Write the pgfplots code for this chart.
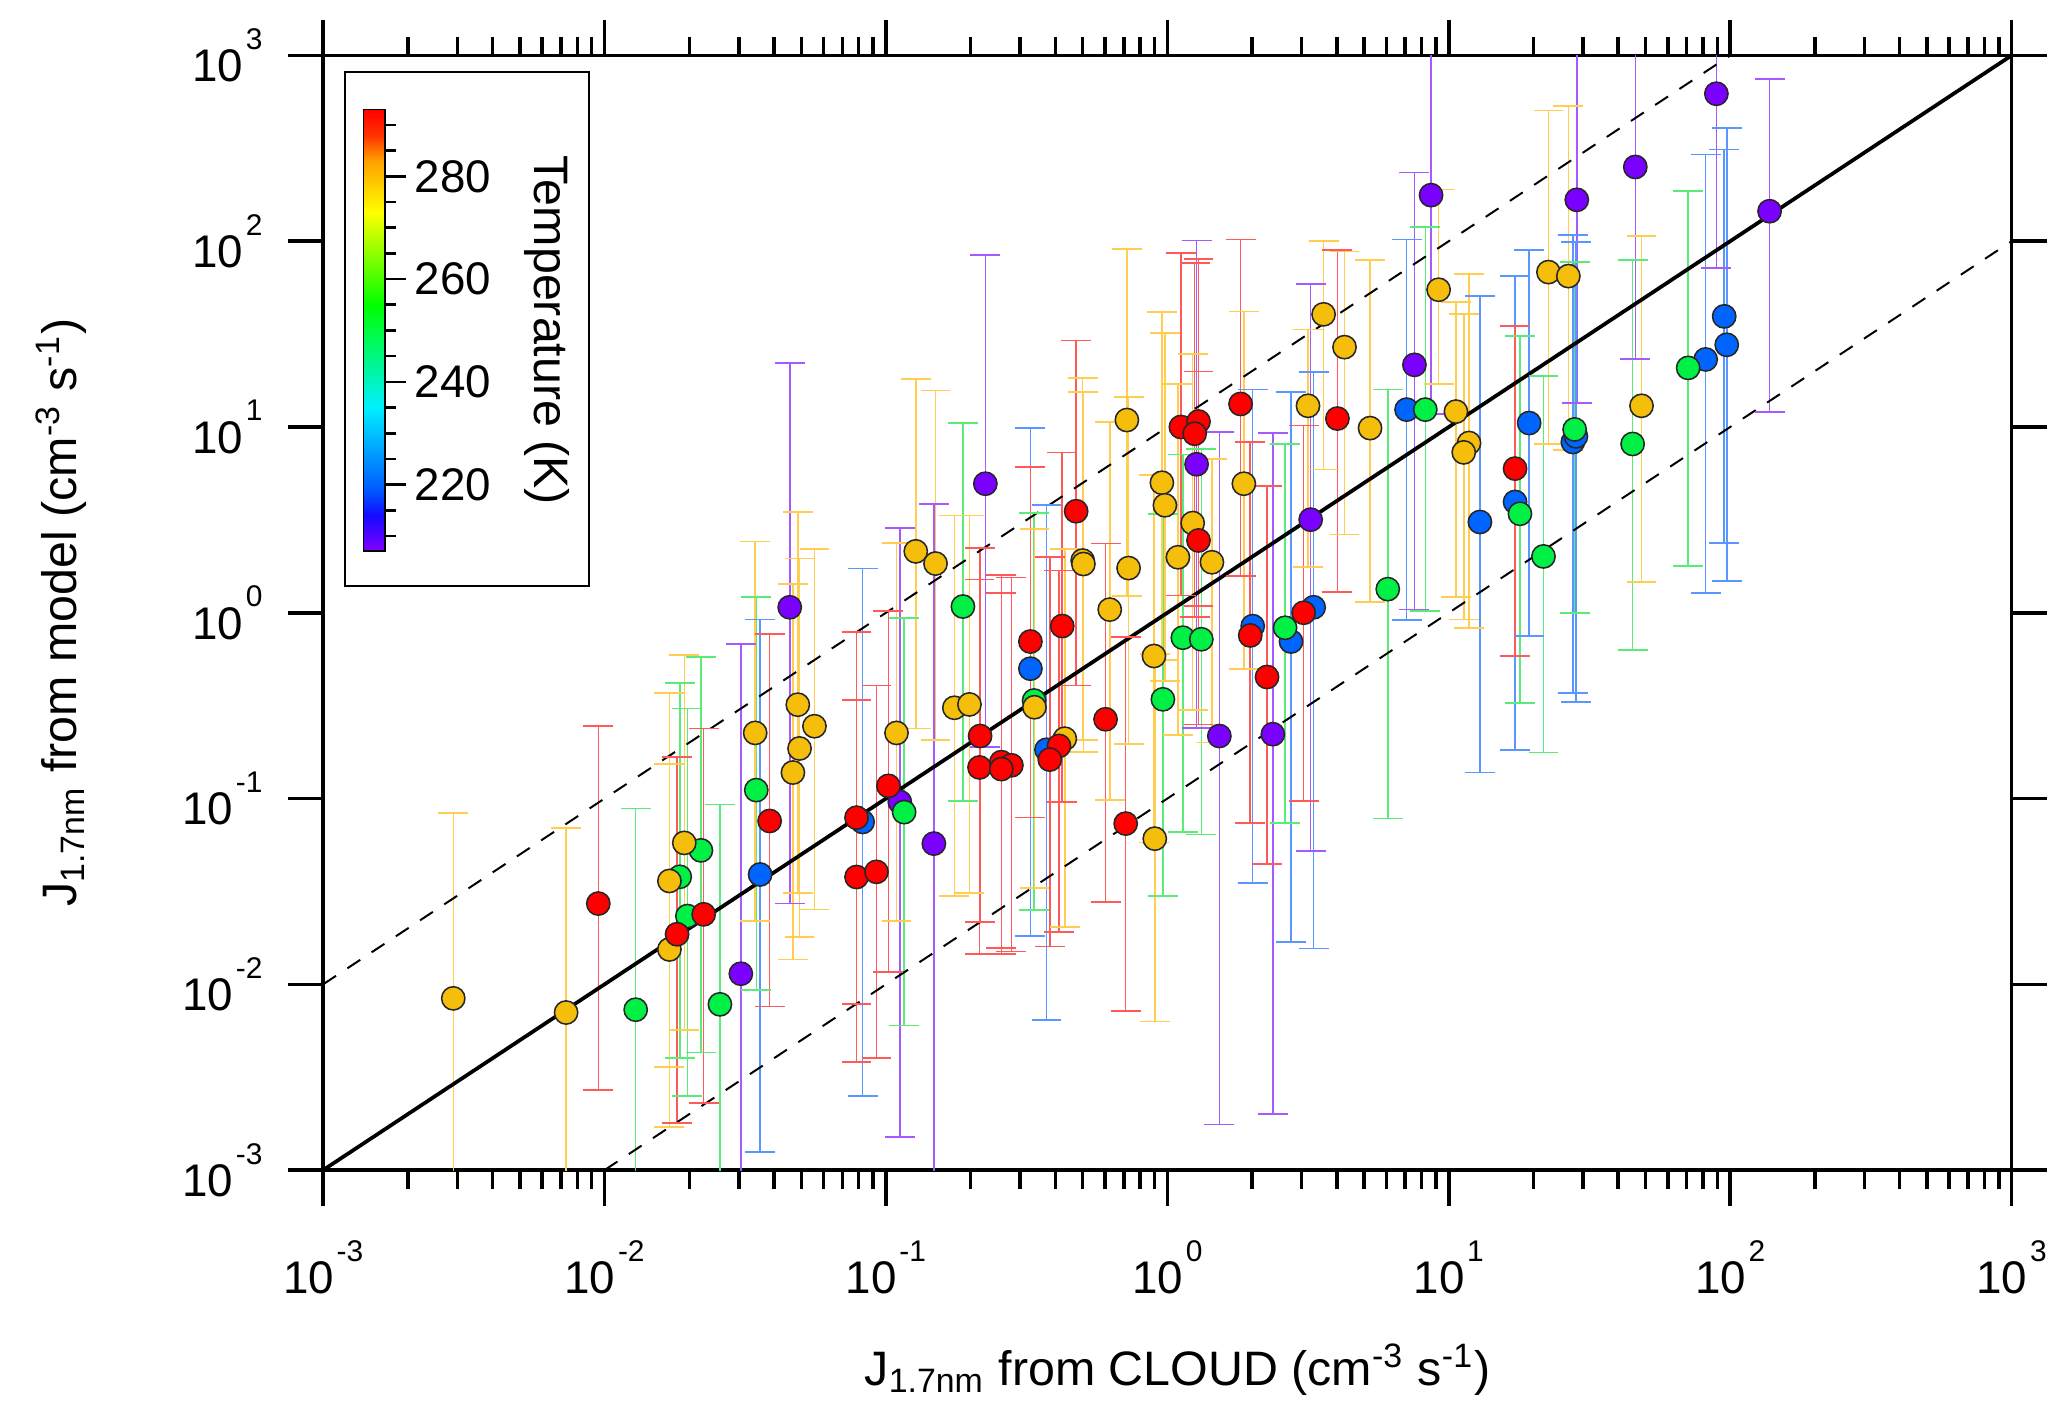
\documentclass[border=0pt]{standalone}
\usepackage{fontspec}
\setmainfont{Liberation Sans}
\usepackage{pgfplots}
\usepackage{pgfplotstable}
\pgfplotsset{compat=1.18}
\usetikzlibrary{plotmarks}

\definecolor{cRed}{RGB}{255,0,0}
\definecolor{cGold}{RGB}{245,190,10}
\definecolor{cGreen}{RGB}{0,240,70}
\definecolor{cBlue}{RGB}{0,100,255}
\definecolor{cPurple}{RGB}{122,0,255}
\definecolor{eRed}{RGB}{255,90,90}
\definecolor{eGold}{RGB}{255,205,80}
\definecolor{eGreen}{RGB}{90,235,120}
\definecolor{eBlue}{RGB}{90,150,255}
\definecolor{ePurple}{RGB}{165,90,255}

\newcommand{\tl}[1]{10\hspace{0.6pt}\raisebox{7.3pt}{\fontsize{6.8}{7}\selectfont #1}}

\pgfplotsset{colormap={temp}{rgb255(0pt)=(128,0,255); rgb255(7pt)=(20,10,255); rgb255(12pt)=(0,90,255); rgb255(28pt)=(0,240,255); rgb255(48pt)=(0,255,0); rgb255(66pt)=(255,255,0); rgb255(76pt)=(255,160,0); rgb255(81pt)=(255,50,0); rgb255(86pt)=(255,0,0)}}

\pgfplotstableread{
x y lo hi
0.0095 0.0272 0.0027 0.245
0.0181 0.0186 0.0018 0.167
0.0225 0.0238 0.0023 0.238
0.0386 0.0757 0.0076 0.766
0.0786 0.0789 0.0078 0.79
0.0786 0.0378 0.0038 0.34
0.0925 0.0403 0.0040 0.406
0.102 0.117 0.0117 1.02
0.216 0.217 0.0217 2.23
0.215 0.147 0.0146 1.51
0.257 0.157 0.0157 1.60
0.279 0.151 0.0150 1.55
0.257 0.144 0.0146 1.28
0.326 0.70 0.079 6.1
0.412 0.192 0.0191 1.69
0.382 0.162 0.016 2.0
0.423 0.848 0.096 7.3
0.474 3.52 0.406 29.2
0.603 0.267 0.0277 2.36
0.711 0.0733 0.0072 0.74
1.117 10.0 1.24 86
1.29 10.7 1.09 80
1.25 9.2 0.95 76
1.29 2.45 0.25 19.9
1.82 13.3 1.57 102
1.97 0.755 0.074 8.3
2.26 0.451 0.0443 4.8
3.05 1.0 0.0968 10.2
4.02 11.1 1.29 90
17.2 5.97 0.585 34.8
}\reddata

\pgfplotstableread{
x y lo hi
0.0029 0.0084 0.0001 0.0835
0.0073 0.00705 0.0001 0.0697
0.017 0.036 0.0036 0.37
0.017 0.0154 0.0017 0.154
0.0192 0.0577 0.0057 0.59
0.0343 0.2255 0.022 2.42
0.0486 0.32 0.031 3.47
0.0557 0.245 0.0253 2.2
0.0493 0.186 0.018 1.96
0.0467 0.138 0.0136 1.43
0.109 0.2255 0.022 2.38
0.1276 2.14 0.238 18.2
0.150 1.84 0.206 15.7
0.175 0.308 0.030 3.34
0.198 0.321 0.031 3.34
0.337 0.31 0.033 2.82
0.432 0.21 0.0204 2.2
0.50 1.91 0.206 18.3
0.503 1.83 0.178 15.5
0.624 1.04 0.098 10.6
0.718 10.9 1.23 91
0.728 1.74 0.196 14.5
0.902 0.0608 0.0063 0.6
0.896 0.585 0.058 5.5
0.956 5.01 0.555 41.5
0.98 3.79 0.43 32
1.09 1.99 0.22 17
1.23 3.04 0.30 24.8
1.44 1.87 0.20 6.7
1.87 4.95 0.50 41.9
3.16 13.0 1.76 33.5
3.59 40.4 5.9 100
4.26 26.9 2.64 88
5.25 9.86 1.14 79
9.2 54.8 17.1 190
10.6 12.1 1.22 47
11.8 8.2 0.83 66.8
11.3 7.3 0.92 40.7
22.6 68.2 8.1 506
26.6 64.9 7.5 532
48.4 13.0 1.46 107
}\golddata

\pgfplotstableread{
x y lo hi
0.0129 0.0073 0.0001 0.0885
0.0185 0.0379 0.004 0.42
0.0197 0.0233 0.0025 0.305
0.022 0.0526 0.0043 0.578
0.0257 0.0078 0.0001 0.093
0.0346 0.111 0.0093 1.22
0.116 0.0845 0.006 0.94
0.1877 1.08 0.097 10.5
0.336 0.337 0.025 3.45
0.964 0.342 0.0298 3.41
1.135 0.734 0.066 7.1
1.32 0.72 0.064 7.6
2.62 0.83 0.074 8.1
6.07 1.34 0.078 15.9
8.25 12.4 1.02 119
17.9 3.41 0.328 30.8
21.7 2.01 0.177 18.8
28.0 9.7 1.0 77
45.0 8.1 0.63 79.5
70.9 20.8 1.78 187
}\greendata

\pgfplotstableread{
x y lo hi
0.0357 0.039 0.00125 0.92
0.0826 0.0748 0.0025 1.73
0.326 0.50 0.0182 9.85
0.372 0.183 0.0064 3.82
2.01 0.847 0.035 15.9
2.75 0.70 0.0169 15.4
3.31 1.07 0.0156 19.8
7.08 12.4 0.91 102
12.9 3.08 0.138 50.5
17.2 3.95 0.183 65
19.3 10.5 0.75 90
27.6 8.3 0.37 108
28.3 8.9 0.33 99
81.8 23.1 1.28 293
95.2 39.4 2.38 312
97.2 27.7 1.48 408
}\bluedata

\pgfplotstableread{
x y lo hi
0.0305 0.0114 0.0001 0.68
0.0455 1.07 0.0272 22.1
0.112 0.0958 0.0015 2.86
0.148 0.0572 0.0001 3.85
0.2255 4.95 0.189 84
1.27 6.3 0.24 101
1.53 0.217 0.00176 9.4
2.37 0.222 0.0020 9.3
3.23 3.17 0.052 59
7.55 21.6 1.04 234
8.65 177 11.8 10000
28.5 167 13.5 10000
46.0 251 23.3 10000
89.3 622 72 10000
138 145 12.0 747
}\purpledata

\pgfplotsset{
  ebar/.style={only marks, mark=*, mark size=0.01pt, mark options={draw=none, fill=none}, forget plot,
    error bars/.cd, y dir=both, y explicit, error mark=none,
    error bar style={draw=#1, line width=0.35pt}},
  cap/.style={only marks, mark=-, mark size=3.4pt, forget plot,
    mark options={draw=#1, line width=0.4pt}},
  dot/.style={only marks, mark=*, mark size=2.65pt, forget plot,
    mark options={fill=#1, draw=black!85, line width=0.35pt}},
}
\newcommand{\errgroup}[2]{%
  \addplot[ebar=#2] table[x=x, y=y, y error plus expr=\thisrow{hi}-\thisrow{y}, y error minus expr=\thisrow{y}-\thisrow{lo}] {#1};
  \addplot[cap=#2] table[x=x, y=lo] {#1};
  \addplot[cap=#2] table[x=x, y=hi] {#1};
}

\begin{document}
\begin{tikzpicture}
\begin{axis}[
  scale only axis, width=384pt, height=253.5pt,
  xmode=log, ymode=log, xmin=1e-3, xmax=1e3, ymin=1e-3, ymax=1e3,
  xtick={1e-3,1e-2,1e-1,1,1e1,1e2,1e3},
  xticklabels={\tl{-3},\tl{-2},\tl{-1},\tl{0},\tl{1},\tl{2},\tl{3}},
  ytick={1e-3,1e-2,1e-1,1,1e1,1e2,1e3},
  yticklabels={\tl{-3},\tl{-2},\tl{-1},\tl{0},\tl{1},\tl{2},\tl{3}},
  minor xtick={2e-3,3e-3,4e-3,5e-3,6e-3,7e-3,8e-3,9e-3,
    2e-2,3e-2,4e-2,5e-2,6e-2,7e-2,8e-2,9e-2,
    0.2,0.3,0.4,0.5,0.6,0.7,0.8,0.9,
    2,3,4,5,6,7,8,9,
    20,30,40,50,60,70,80,90,
    200,300,400,500,600,700,800,900},
  yminorticks=false,
  tick align=outside, tick pos=both,
  major tick length=8.1pt, minor tick length=4.2pt,
  every tick/.style={black, line width=0.8pt},
  axis line style={line width=0.85pt},
  ticklabel style={font=\fontsize{10.4}{12}\selectfont},
  xticklabel style={anchor=north, inner sep=0pt},
  yticklabel style={anchor=east, inner sep=0pt},
  xticklabel shift=7.8pt,
  yticklabel shift=5.5pt,
  label style={font=\fontsize{11}{13}\selectfont},
  xlabel={J\textsubscript{1.7nm} from CLOUD (cm\textsuperscript{-3} s\textsuperscript{-1})},
  ylabel={J\textsubscript{1.7nm} from model (cm\textsuperscript{-3} s\textsuperscript{-1})},
  xlabel style={at={(axis description cs:0.506,-0.193)}, anchor=base},
  ylabel style={at={(axis description cs:-0.1458,0.5)}, anchor=base},
  colormap name=temp,
  point meta min=207, point meta max=293,
  colorbar,
  colorbar style={
    at={(parent axis.north west)}, anchor=north west,
    xshift=0.66pt, yshift=-12.3pt,
    scale only axis, width=4.95pt, height=100.5pt,
    xtick=\empty,
    ytick={220,240,260,280},
    yticklabels={220,240,260,280},
    minor ytick={210,215,225,230,235,245,250,255,265,270,275,285,290},
    tick align=outside, ytick pos=right, yticklabel pos=right,
    major tick length=4.7pt, minor tick length=2.35pt,
    every tick/.style={black, line width=0.6pt},
    axis line style={line width=0.4pt},
    yticklabel style={font=\fontsize{10.4}{12}\selectfont, anchor=west, inner sep=0pt},
    yticklabel shift=1.8pt,
    ylabel={Temperature (K)},
    ylabel style={font=\fontsize{11}{13}\selectfont, rotate=180, anchor=base, at={(axis description cs:7.84,0.5)}},
  },
]
\coordinate (O) at (rel axis cs:0,0);

\errgroup{\purpledata}{ePurple}
\errgroup{\bluedata}{eBlue}
\errgroup{\greendata}{eGreen}
\errgroup{\golddata}{eGold}
\errgroup{\reddata}{eRed}

\addplot[dot=cPurple] table[x=x, y=y] {\purpledata};
\addplot[dot=cBlue] table[x=x, y=y] {\bluedata};
\addplot[dot=cGreen] table[x=x, y=y] {\greendata};
\addplot[dot=cGold] table[x=x, y=y] {\golddata};
\addplot[dot=cRed] table[x=x, y=y] {\reddata};

\addplot[black, line width=0.85pt, forget plot] coordinates {(1e-3,1e-3) (1e3,1e3)};
\addplot[black, line width=0.45pt, dash pattern=on 3.5pt off 3.1pt, forget plot] coordinates {(1e-3,1e-2) (1e2,1e3)};
\addplot[black, line width=0.45pt, dash pattern=on 3.5pt off 3.1pt, forget plot] coordinates {(1e-2,1e-3) (1e3,1e2)};

\draw[line width=0.45pt, fill=white] ([shift={(4.98pt,-3.7pt)}]rel axis cs:0,1) rectangle ([shift={(60.5pt,-120.75pt)}]rel axis cs:0,1);
\end{axis}
\pgfresetboundingbox
\path ([shift={(-73.5pt,-56.4pt)}]O) rectangle ([shift={(396.6pt,266.1pt)}]O);
\end{tikzpicture}
\end{document}
